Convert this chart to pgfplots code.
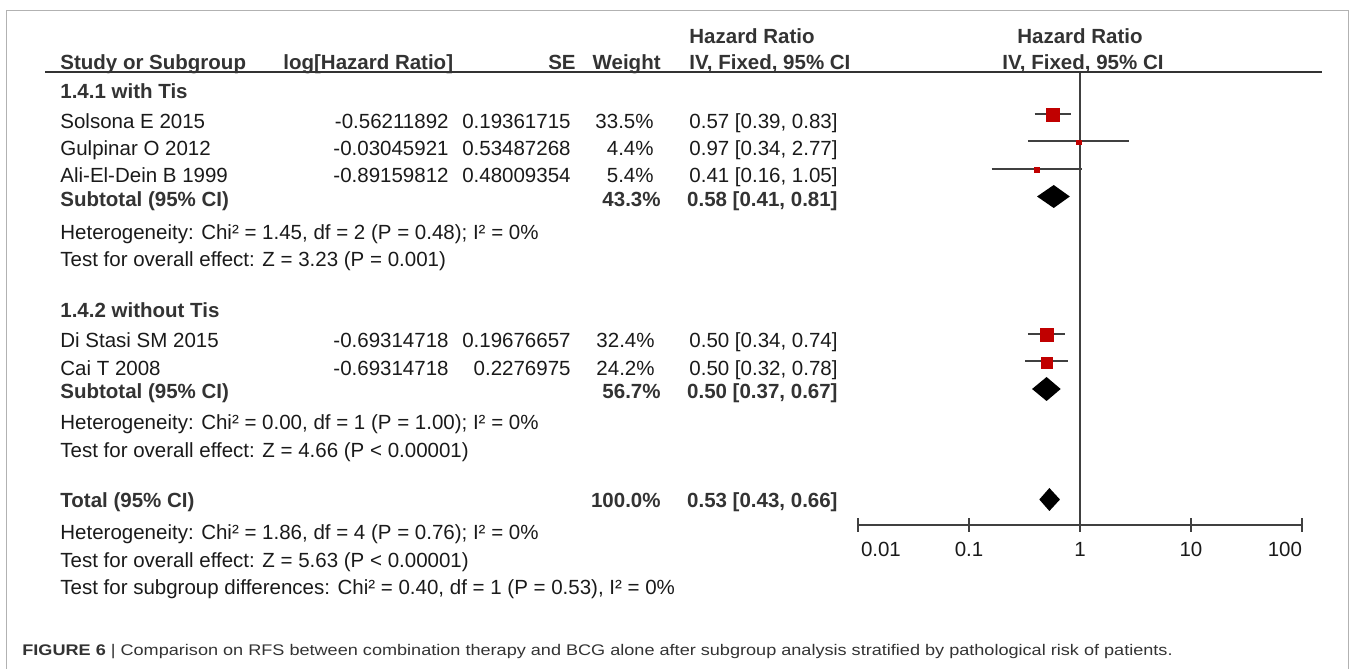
\documentclass[border=0pt]{standalone}
\usepackage{fontspec}
\setmainfont{Liberation Sans}
\usepackage{pgfplots}
\pgfplotsset{compat=1.18}
\definecolor{sq}{HTML}{C00000}
\definecolor{ln}{HTML}{404040}
\definecolor{tx}{HTML}{1A1A1A}
\definecolor{bd}{HTML}{333333}
\newcommand{\fs}{\fontsize{10.25}{10.25}\selectfont}
\newcommand{\TL}[3]{\node[anchor=base west,inner sep=0,font=\fs,text=tx] at (#1,#2) {#3};}
\newcommand{\TR}[3]{\node[anchor=base east,inner sep=0,font=\fs,text=tx] at (#1,#2) {#3};}
\newcommand{\BL}[3]{\node[anchor=base west,inner sep=0,font=\fs\bfseries,text=bd] at (#1,#2) {#3};}
\newcommand{\BR}[3]{\node[anchor=base east,inner sep=0,font=\fs\bfseries,text=bd] at (#1,#2) {#3};}
\newcommand{\BC}[3]{\node[anchor=base,inner sep=0,font=\fs\bfseries,text=bd] at (#1,#2) {#3};}
\begin{document}
\begin{tikzpicture}
\begin{axis}[at={(429pt,72pt)}, anchor=south west, scale only axis,
  width=222pt, height=226.5pt,
  xmode=log, xmin=0.01, xmax=100, ymin=-525, ymax=-72,
  axis x line=bottom, axis y line=none,
  x axis line style={-, line width=0.9pt, color=ln},
  xtick={0.01,0.1,1,10,100},
  xticklabels={\makebox[0pt][l]{\hspace{1.5pt}0.01},0.1,1,10,\makebox[0pt][r]{100}},
  xminorticks=false, tick align=center, major tick length=7pt,
  tick style={line width=0.9pt, color=ln},
  xticklabel style={font=\fs, text=tx, yshift=-1.5pt},
  clip=false]
% line of no effect
\addplot[ln, line width=0.9pt] coordinates {(1,-72) (1,-525)};
% confidence intervals
\addplot[ln, line width=1pt] coordinates {(0.39,-114) (0.83,-114)};
\addplot[ln, line width=1pt] coordinates {(0.34,-141.5) (2.77,-141.5)};
\addplot[ln, line width=1pt] coordinates {(0.16,-169) (1.05,-169)};
\addplot[ln, line width=1pt] coordinates {(0.34,-334) (0.74,-334)};
\addplot[ln, line width=1pt] coordinates {(0.32,-361.5) (0.78,-361.5)};
% study weights as squares
\addplot[only marks, mark=square*, mark size=3.25pt, color=sq] coordinates {(0.57,-115)};
\addplot[only marks, mark=square*, mark size=1.2pt, color=sq] coordinates {(0.97,-142.5)};
\addplot[only marks, mark=square*, mark size=1.3pt, color=sq] coordinates {(0.41,-170)};
\addplot[only marks, mark=square*, mark size=3.2pt, color=sq] coordinates {(0.50,-335)};
\addplot[only marks, mark=square*, mark size=2.75pt, color=sq] coordinates {(0.50,-362.5)};
% pooled diamonds
\addplot[fill=black, draw=none] coordinates {(0.41,-196.5) (0.58,-185) (0.81,-196.5) (0.58,-208)} -- cycle;
\addplot[fill=black, draw=none] coordinates {(0.37,-389) (0.50,-377) (0.67,-389) (0.50,-401)} -- cycle;
\addplot[fill=black, draw=none] coordinates {(0.43,-499.5) (0.53,-488) (0.66,-499.5) (0.53,-511)} -- cycle;
\end{axis}
\begin{scope}[shift={(0,334.5pt)}, x=0.5pt, y=-0.5pt]
\draw[gray!60, line width=0.5pt] (6,669) -- (6,11) -- (1348,11) -- (1348,669);
\draw[bd, line width=0.8pt] (45,72) -- (1322,72);
% headers
\BL{689}{43.5}{Hazard Ratio}
\BC{1080}{43.5}{Hazard Ratio}
\BL{60}{70}{Study or Subgroup}
\BL{283}{70}{log[Hazard Ratio]}
\BR{576}{70}{SE}
\BR{661}{70}{Weight}
\BL{689}{70}{IV, Fixed, 95\% CI}
\BC{1083}{70}{IV, Fixed, 95\% CI}
% group 1
\BL{60}{98.5}{1.4.1 with Tis}
\TL{60}{128.5}{Solsona E 2015}\TR{449}{128.5}{-0.56211892}\TR{571}{128.5}{0.19361715}\TR{654}{128.5}{33.5\%}\TR{838}{128.5}{0.57 [0.39, 0.83]}
\TL{60}{156}{Gulpinar O 2012}\TR{449}{156}{-0.03045921}\TR{571}{156}{0.53487268}\TR{654}{156}{4.4\%}\TR{838}{156}{0.97 [0.34, 2.77]}
\TL{60}{183}{Ali-El-Dein B 1999}\TR{449}{183}{-0.89159812}\TR{571}{183}{0.48009354}\TR{654}{183}{5.4\%}\TR{838}{183}{0.41 [0.16, 1.05]}
\BL{60}{207}{Subtotal (95\% CI)}\BR{661}{207}{43.3\%}\BR{838}{207}{0.58 [0.41, 0.81]}
\TL{60}{239.5}{Heterogeneity: Chi² = 1.45, df = 2 (P = 0.48); I² = 0\%}
\TL{60}{267}{Test for overall effect: Z = 3.23 (P = 0.001)}
% group 2
\BL{60}{318}{1.4.2 without Tis}
\TL{60}{347.5}{Di Stasi SM 2015}\TR{449}{347.5}{-0.69314718}\TR{571}{347.5}{0.19676657}\TR{655}{347.5}{32.4\%}\TR{838}{347.5}{0.50 [0.34, 0.74]}
\TL{60}{375.5}{Cai T 2008}\TR{449}{375.5}{-0.69314718}\TR{571}{375.5}{0.2276975}\TR{655}{375.5}{24.2\%}\TR{838}{375.5}{0.50 [0.32, 0.78]}
\BL{60}{398.5}{Subtotal (95\% CI)}\BR{661}{398.5}{56.7\%}\BR{838}{398.5}{0.50 [0.37, 0.67]}
\TL{60}{430}{Heterogeneity: Chi² = 0.00, df = 1 (P = 1.00); I² = 0\%}
\TL{60}{457.5}{Test for overall effect: Z = 4.66 (P < 0.00001)}
% total
\BL{60}{508}{Total (95\% CI)}\BR{661}{508}{100.0\%}\BR{838}{508}{0.53 [0.43, 0.66]}
\TL{60}{540}{Heterogeneity: Chi² = 1.86, df = 4 (P = 0.76); I² = 0\%}
\TL{60}{567.5}{Test for overall effect: Z = 5.63 (P < 0.00001)}
\TL{60}{595}{Test for subgroup differences: Chi² = 0.40, df = 1 (P = 0.53), I² = 0\%}
% caption
\node[anchor=base west,inner sep=0,font=\fontsize{7.7}{8}\selectfont,text=bd] at (22,656) {\scalebox{1.175}[1]{\textbf{FIGURE 6} | Comparison on RFS between combination therapy and BCG alone after subgroup analysis stratified by pathological risk of patients.}};
\end{scope}
\pgfresetboundingbox
\path (0,0) rectangle (678.5pt,334.5pt);
\end{tikzpicture}
\end{document}
